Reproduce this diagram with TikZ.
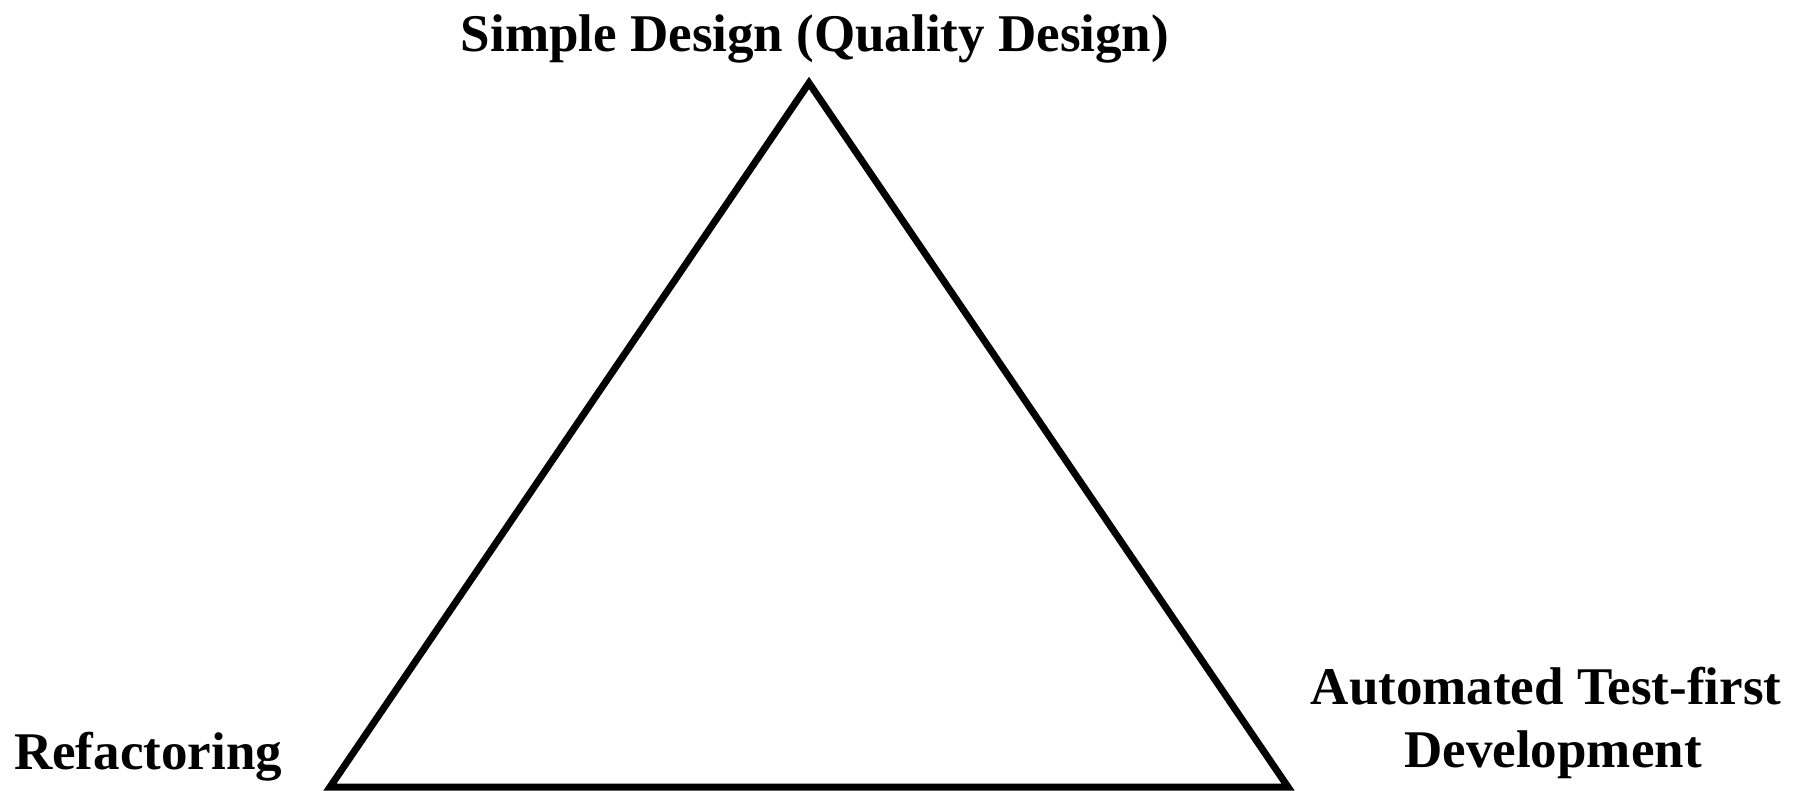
\documentclass[tikz,border=0pt]{standalone}
\usepackage{fontspec}
\setmainfont{Liberation Serif}
\begin{document}
\begin{tikzpicture}[x=1pt,y=-1pt,
  lbl/.style={font=\fontsize{53}{63}\selectfont\bfseries, inner sep=0pt, align=center},
  tri/.style={line width=7pt, line join=miter, draw=black}]
\useasboundingbox (0,0) rectangle (1795,790);
\coordinate (top) at (809,83);
\coordinate (bl) at (330,787);
\coordinate (br) at (1288,787);
\draw[tri] (top) -- (bl) -- (br) -- cycle;
\node[lbl, anchor=base] (sd) at (815,51) {Simple Design (Quality Design)};
\node[lbl, anchor=base west] (rf) at (14,769) {Refactoring};
\node[lbl, anchor=base] (at) at (1546,704) {Automated Test-first};
\node[lbl, anchor=base] (dv) at (1553,767) {Development};
\end{tikzpicture}
\end{document}
